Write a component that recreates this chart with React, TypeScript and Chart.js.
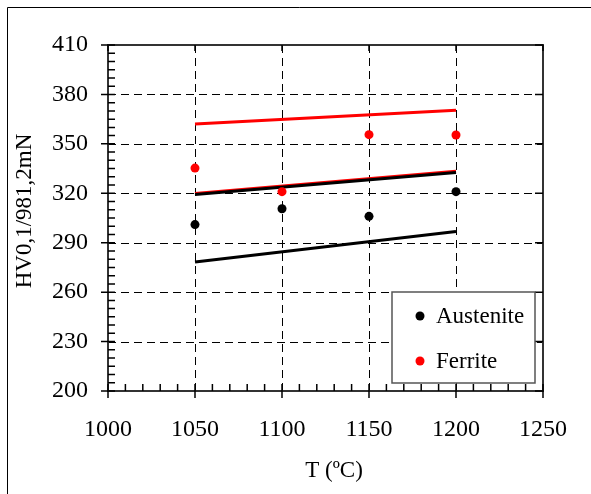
import React, { useEffect, useRef } from "react";
import { Chart, registerables } from "chart.js";

Chart.register(...registerables);

const temperatures = [1050, 1100, 1150, 1200];
const austeniteValues = [301, 310.6, 306, 321];
const ferriteValues = [335.3, 321, 355.6, 355.4];

const ferriteUpperLine = [362, 370.4];
const ferriteLowerLine = [319.8, 333.4];
const austeniteUpperLine = [319.2, 332.6];
const austeniteLowerLine = [278.3, 296.8];
const lineEnds = [1050, 1200];

const xTicks = [1000, 1050, 1100, 1150, 1200, 1250];
const yTicks = [200, 230, 260, 290, 320, 350, 380, 410];
const xMinorStep = 10;
const yMinorStep = 5;

const seriesNames = ["Austenite", "Ferrite"];
const xTitle = "T (ºC)";
const yTitle = "HV0,1/981,2mN";

const FONT = "'Liberation Serif', 'Times New Roman', serif";

const toPts = (xs: number[], ys: number[]) => xs.map((x, i) => ({ x, y: ys[i] }));

const framePlugin = {
  id: "frame",
  beforeDatasetsDraw(chart: any) {
    const { ctx, chartArea: a, scales } = chart;
    const xs = scales.x;
    const ys = scales.y;
    ctx.save();
    ctx.strokeStyle = "#000";
    ctx.lineWidth = 1;
    ctx.setLineDash([8, 5]);
    ctx.beginPath();
    xTicks.slice(1, -1).forEach((v) => {
      const p = Math.round(xs.getPixelForValue(v)) + 0.5;
      ctx.moveTo(p, a.top);
      ctx.lineTo(p, a.bottom);
    });
    yTicks.slice(1, -1).forEach((v) => {
      const p = Math.round(ys.getPixelForValue(v)) + 0.5;
      ctx.moveTo(a.left, p);
      ctx.lineTo(a.right, p);
    });
    ctx.stroke();
    ctx.setLineDash([]);
    ctx.restore();
  },
  afterDatasetsDraw(chart: any) {
    const { ctx, chartArea: a, scales } = chart;
    const xs = scales.x;
    const ys = scales.y;
    ctx.save();
    ctx.strokeStyle = "#333";
    ctx.lineWidth = 2;
    ctx.strokeRect(a.left, a.top, a.right - a.left, a.bottom - a.top);
    ctx.strokeStyle = "#000";
    ctx.lineWidth = 1.5;
    ctx.beginPath();
    for (let v = yTicks[0]; v <= yTicks[yTicks.length - 1]; v += yMinorStep) {
      const p = ys.getPixelForValue(v);
      if (yTicks.includes(v)) {
        ctx.moveTo(a.left - 7, p);
        ctx.lineTo(a.left + 7, p);
        ctx.moveTo(a.right, p);
        ctx.lineTo(a.right - 8, p);
      } else {
        ctx.moveTo(a.left, p);
        ctx.lineTo(a.left + 7, p);
      }
    }
    for (let v = xTicks[0]; v <= xTicks[xTicks.length - 1]; v += xMinorStep) {
      const p = xs.getPixelForValue(v);
      if (xTicks.includes(v)) {
        ctx.moveTo(p, a.bottom + 7);
        ctx.lineTo(p, a.bottom - 7);
        ctx.moveTo(p, a.top);
        ctx.lineTo(p, a.top + 6);
      } else {
        ctx.moveTo(p, a.bottom);
        ctx.lineTo(p, a.bottom - 7);
      }
    }
    ctx.stroke();

    // legend box
    const lx = 392, ly = 292, lw = 143, lh = 91;
    ctx.fillStyle = "#fff";
    ctx.fillRect(lx, ly, lw, lh);
    ctx.strokeStyle = "#555";
    ctx.lineWidth = 1.5;
    ctx.strokeRect(lx, ly, lw, lh);
    const colors = ["#000", "#ff0000"];
    const rowsY = [316, 361];
    ctx.font = `23px ${FONT}`;
    ctx.textBaseline = "middle";
    ctx.textAlign = "left";
    seriesNames.forEach((name, i) => {
      ctx.fillStyle = colors[i];
      ctx.beginPath();
      ctx.arc(420, rowsY[i], 4.5, 0, Math.PI * 2);
      ctx.fill();
      ctx.fillStyle = "#000";
      ctx.fillText(name, 436, rowsY[i] + 1);
    });

    // axis titles
    ctx.fillStyle = "#000";
    ctx.textAlign = "center";
    ctx.textBaseline = "middle";
    ctx.fillText(xTitle, 334, 471);
    ctx.translate(25, 211);
    ctx.rotate(-Math.PI / 2);
    ctx.fillText(yTitle, 0, 0);
    ctx.restore();

    // outer frame (left & top)
    ctx.save();
    ctx.strokeStyle = "#000";
    ctx.lineWidth = 1;
    ctx.beginPath();
    ctx.moveTo(7.5, 494);
    ctx.lineTo(7.5, 7.5);
    ctx.lineTo(591, 7.5);
    ctx.stroke();
    ctx.restore();
  },
};

export default function App() {
  const ref = useRef<HTMLCanvasElement>(null);
  useEffect(() => {
    if (!ref.current) return;
    const lineDs = (data: number[], color: string) => ({
      data: toPts(lineEnds, data),
      showLine: true,
      borderColor: color,
      borderWidth: 3,
      pointRadius: 0,
      backgroundColor: color,
    });
    const chart = new Chart(ref.current, {
      type: "scatter",
      data: {
        datasets: [
          {
            label: seriesNames[1],
            data: toPts(temperatures, ferriteValues),
            pointRadius: 4.5,
            backgroundColor: "#ff0000",
            borderColor: "#ff0000",
            borderWidth: 0,
          },
          {
            label: seriesNames[0],
            data: toPts(temperatures, austeniteValues),
            pointRadius: 4.5,
            backgroundColor: "#000",
            borderColor: "#000",
            borderWidth: 0,
          },
          lineDs(austeniteUpperLine, "#000"),
          lineDs(austeniteLowerLine, "#000"),
          lineDs(ferriteUpperLine, "#ff0000"),
          lineDs(ferriteLowerLine, "#ff0000"),
        ],
      },
      options: {
        animation: false,
        responsive: false,
        devicePixelRatio: 1,
        layout: { padding: { left: 0, top: 45, right: 45, bottom: 0 } },
        plugins: { legend: { display: false }, tooltip: { enabled: false } },
        scales: {
          x: {
            type: "linear",
            min: 1000,
            max: 1250,
            afterBuildTicks: (s: any) => {
              s.ticks = xTicks.map((v) => ({ value: v }));
            },
            afterFit: (s: any) => {
              s.height = 103;
            },
            grid: { display: false, drawTicks: false },
            border: { display: false },
            ticks: {
              color: "#000",
              font: { family: FONT, size: 24 },
              padding: 24,
              maxRotation: 0,
              autoSkip: false,
              callback: (v: any) => String(v),
            },
          },
          y: {
            type: "linear",
            min: 200,
            max: 410,
            afterBuildTicks: (s: any) => {
              s.ticks = yTicks.map((v) => ({ value: v }));
            },
            afterFit: (s: any) => {
              s.width = 108;
            },
            grid: { display: false, drawTicks: false },
            border: { display: false },
            ticks: {
              color: "#000",
              font: { family: FONT, size: 24 },
              padding: 20,
              autoSkip: false,
              callback: (v: any) => String(v),
            },
          },
        },
      },
      plugins: [framePlugin],
    });
    return () => chart.destroy();
  }, []);
  return (
    <div style={{ position: "absolute", left: 0, top: 0, width: 591, height: 494, background: "#fff" }}>
      <canvas ref={ref} width={591} height={494} style={{ width: 591, height: 494, display: "block" }} />
    </div>
  );
}
